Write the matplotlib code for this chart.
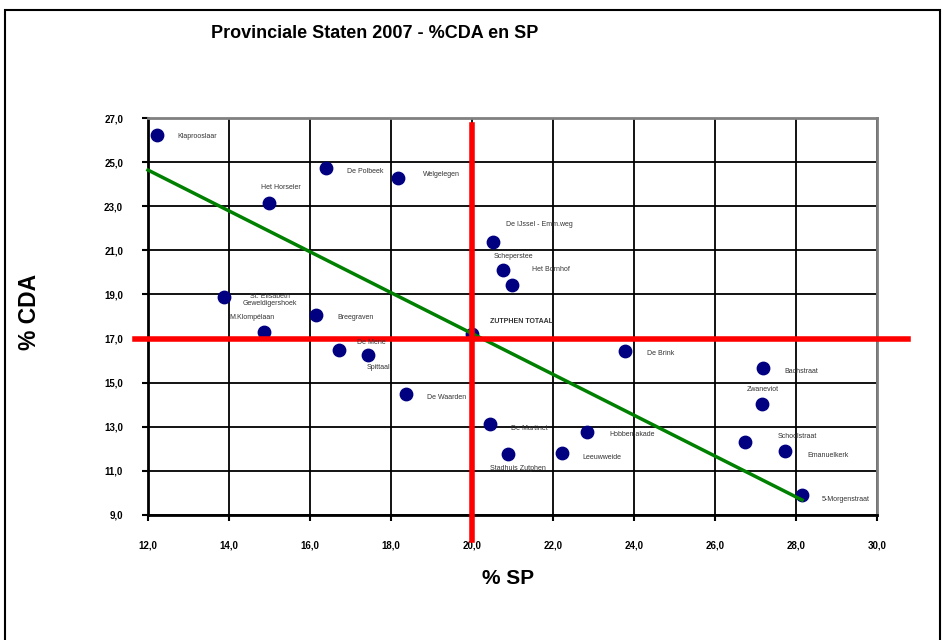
import numpy as np
import matplotlib.pyplot as plt
from matplotlib.patches import Rectangle

plt.rcParams['font.family'] = ['Liberation Sans', 'DejaVu Sans']

# 数据: % SP (x) en % CDA (y) per stembureau
names = ['Klaprooslaar', 'De Polbeek', 'Welgelegen', 'Het Horseler',
         'St. Elisabeth\nGeweldigershoek', 'Breegraven', 'M.Klompélaan',
         'ZUTPHEN TOTAAL', 'De Mene', 'Spittaal', 'De Waarden',
         'De IJssel - Emm.weg', 'Scheperstee', 'Het Bornhof', 'De Brink',
         'Bachstraat', 'Zwaneviot', 'De Martinet', 'Hobbemakade',
         'Stadhuis Zutphen', 'Leeuwweide', 'Schoolstraat', 'Emanuelkerk',
         '5-Morgenstraat']
sp = [12.22, 16.40, 18.17, 14.99, 13.88, 16.15, 14.86, 20.00, 16.72, 17.43,
      18.37, 20.52, 20.77, 20.99, 23.78, 27.19, 27.16, 20.44, 22.84, 20.89,
      22.22, 26.74, 27.73, 28.15]
cda = [26.23, 24.73, 24.28, 23.15, 18.89, 18.07, 17.30, 17.20, 16.48, 16.26,
       14.49, 21.38, 20.11, 19.43, 16.44, 15.67, 14.04, 13.13, 12.77, 11.77,
       11.81, 12.31, 11.90, 9.91]
x_ticks = [12, 14, 16, 18, 20, 22, 24, 26, 28, 30]
y_ticks = [9, 11, 13, 15, 17, 19, 21, 23, 25, 27]
sp_totaal = 20.0
cda_totaal = 17.0
trend_x = [12.0, 28.15]
trend_y = [24.64, 9.68]

# label offsets in pixels (dx, dy) en uitlijning
offsets = {
    'Klaprooslaar': (20, -2, 'left'), 'De Polbeek': (21, -3, 'left'),
    'Welgelegen': (25, 3, 'left'), 'Het Horseler': (12, 15, 'center'),
    'St. Elisabeth\nGeweldigershoek': (46, -3, 'center'),
    'Breegraven': (21, -3, 'left'), 'M.Klompélaan': (-12, 14, 'center'),
    'ZUTPHEN TOTAAL': (18, 13, 'left'), 'De Mene': (18, 8, 'left'),
    'Spittaal': (11, -13, 'center'), 'De Waarden': (21, -4, 'left'),
    'De IJssel - Emm.weg': (13, 17, 'left'), 'Scheperstee': (10, 13, 'center'),
    'Het Bornhof': (20, 15, 'left'), 'De Brink': (22, -3, 'left'),
    'Bachstraat': (21, -4, 'left'), 'Zwaneviot': (1, 14, 'center'),
    'De Martinet': (21, -5, 'left'), 'Hobbemakade': (22, -3, 'left'),
    'Stadhuis Zutphen': (10, -15, 'center'), 'Leeuwweide': (20, -4, 'left'),
    'Schoolstraat': (52, 5, 'center'), 'Emanuelkerk': (22, -4, 'left'),
    '5-Morgenstraat': (20, -5, 'left'),
}

fig = plt.figure(figsize=(9.47, 6.4), dpi=100)
ax = fig.add_axes([148/947, 1-515/640, (877-148)/947, (515-118)/640])

ax.set_xlim(12, 30)
ax.set_ylim(9, 27)
ax.set_xticks(x_ticks)
ax.set_yticks(y_ticks)
ax.set_xticklabels([f'{v:.1f}'.replace('.', ',') for v in x_ticks])
ax.set_yticklabels([f'{v:.1f}'.replace('.', ',') for v in y_ticks])
ax.grid(True, color='black', linewidth=1.3)
ax.set_axisbelow(True)
ax.tick_params(direction='out', length=4, width=1.5, labelsize=7)
ax.tick_params(axis='x', pad=14)
ax.tick_params(axis='y', pad=14)
for lbl in ax.get_xticklabels() + ax.get_yticklabels():
    lbl.set_fontweight('bold')
for s in ['left', 'bottom']:
    ax.spines[s].set_linewidth(2)
for s in ['top', 'right']:
    ax.spines[s].set_linewidth(2)
    ax.spines[s].set_color('#808080')

ax.scatter(sp, cda, s=80, color='#000080', zorder=3)

# trendlijn
ax.plot(trend_x, trend_y, color='green', linewidth=2.5, zorder=4, clip_on=False)

# rode lijnen: Zutphen totaal
ax.plot([sp_totaal, sp_totaal], [26.7, 7.85], color='red', linewidth=4,
        zorder=5, clip_on=False)
ax.plot([11.68, 30.77], [cda_totaal, cda_totaal], color='red', linewidth=4,
        zorder=5, clip_on=False)

for n, x, y in zip(names, sp, cda):
    dx, dy, ha = offsets[n]
    ax.annotate(n, (x, y), xytext=(dx, dy), textcoords='offset pixels',
                fontsize=5, color='#333333', ha=ha, va='center',
                fontweight='bold' if n == 'ZUTPHEN TOTAAL' else 'normal',
                linespacing=1.0, zorder=6)

fig.text(375/947, 1-34/640, 'Provinciale Staten 2007 - %CDA en SP',
         ha='center', va='center', fontsize=13, fontweight='bold')
fig.text(508/947, 1-578/640, '% SP', ha='center', va='center',
         fontsize=15, fontweight='bold')
fig.text(30/947, 1-312/640, '% CDA', ha='center', va='center',
         fontsize=16.5, fontweight='bold', rotation=90)

fig.patches.append(Rectangle((5/947, -0.01), 935/947, 1.002 - 5/640,
                             transform=fig.transFigure, fill=False,
                             edgecolor='black', linewidth=1.5))

fig.savefig('out.png', dpi=100)
